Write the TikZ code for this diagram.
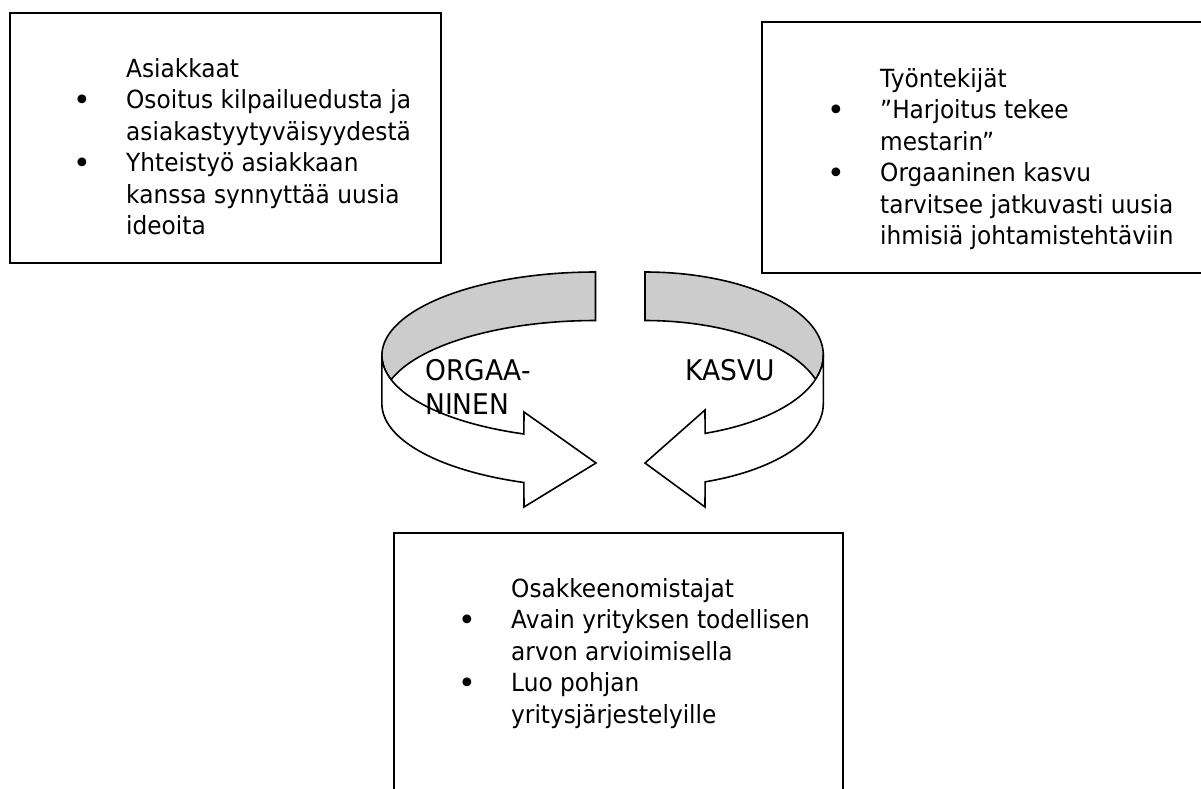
\documentclass[tikz,border=0pt]{standalone}
\usepackage{fontspec}
\setmainfont{DejaVu Sans}[FakeStretch=0.93]
\newfontfamily\bulletfont{DejaVu Sans}
% bullet hanging 44pt to the left of the item text
\newcommand{\itembullet}{\llap{\makebox[88pt][c]{\raisebox{-2pt}{\bulletfont\fontsize{30}{30}\selectfont •}}}}
% block of lines whose reference point is the first baseline
\newcommand{\lines}[1]{\begin{tabular}[t]{@{}l@{}}#1\end{tabular}}
\begin{document}
\begin{tikzpicture}[x=1pt,y=-1pt,
  box/.style={draw=black, line width=2pt, anchor=north west, inner sep=0pt},
  boxtext/.style={anchor=base west, inner sep=0pt,
                  font=\fontsize{25}{31.5}\selectfont},
  ribbon/.style={draw=black, line width=1.6pt, line join=miter},
  backface/.style={ribbon, fill=black!20},
  frontface/.style={ribbon, fill=white},
  cyclelabel/.style={anchor=base west, inner sep=0pt,
                  font=\fontsize{28.5}{34}\selectfont}]
\useasboundingbox (0,0) rectangle (1201,788);
\clip (0,0) rectangle (1201,788);

% ---------- three stakeholder boxes ----------
\node[box, minimum width=431pt, minimum height=250pt] (asiakkaat) at (9,12) {};
\node[box, minimum width=470pt, minimum height=251pt] (tyontekijat) at (761,21) {};
\node[box, minimum width=449pt, minimum height=290pt] (omistajat) at (393,532) {};

\node[boxtext] (asiakkaat-text) at (126,77)
  {\lines{Asiakkaat\\
   \itembullet Osoitus kilpailuedusta ja\\
   asiakastyytyväisyydestä\\
   \itembullet Yhteistyö asiakkaan\\
   kanssa synnyttää uusia\\
   ideoita}};

\node[boxtext] (tyontekijat-text) at (880,87)
  {\lines{Työntekijät\\
   \itembullet ”Harjoitus tekee\\
   mestarin”\\
   \itembullet Orgaaninen kasvu\\
   tarvitsee jatkuvasti uusia\\
   ihmisiä johtamistehtäviin}};

\node[boxtext] (omistajat-text) at (511,597)
  {\lines{Osakkeenomistajat\\
   \itembullet Avain yrityksen todellisen\\
   arvon arvioimisella\\
   \itembullet Luo pohjan\\
   yritysjärjestelyille}};

% ---------- left curved ribbon arrow (ORGAANINEN) ----------
% top edge ellipse: centre (595.5,355.4), radii 213.6 x 83.4; bottom edge 48.5 lower
\def\Lcx{595.5}\def\La{213.6}\def\Lb{83.4}\def\Lya{355.4}\def\Lyb{403.9}
\path[backface]
  plot[domain=270:163.1, samples=60, variable=\t] ({\Lcx+\La*cos(\t)},{\Lya+\Lb*sin(\t)})
  -- plot[domain=196.9:270, samples=60, variable=\t] ({\Lcx+\La*cos(\t)},{\Lyb+\Lb*sin(\t)})
  -- cycle;
\path[frontface]
  plot[domain=180:109.6, samples=60, variable=\t] ({\Lcx+\La*cos(\t)},{\Lya+\Lb*sin(\t)})
  -- (524,412) coordinate (Lbarb1) -- (596,463) coordinate (Ltip) -- (524,507) coordinate (Lbarb2)
  -- plot[domain=109.6:180, samples=60, variable=\t] ({\Lcx+\La*cos(\t)},{\Lyb+\Lb*sin(\t)})
  -- cycle;

% ---------- right curved ribbon arrow (KASVU) ----------
\def\Rcx{645}\def\Ra{178.3}\def\Rb{83.1}\def\Rya{355.1}\def\Ryb{403.6}
\path[backface]
  plot[domain=-90:16.9, samples=60, variable=\t] ({\Rcx+\Ra*cos(\t)},{\Rya+\Rb*sin(\t)})
  -- plot[domain=-16.9:-90, samples=60, variable=\t] ({\Rcx+\Ra*cos(\t)},{\Ryb+\Rb*sin(\t)})
  -- cycle;
\path[frontface]
  plot[domain=0:70.3, samples=60, variable=\t] ({\Rcx+\Ra*cos(\t)},{\Rya+\Rb*sin(\t)})
  -- (705,410) coordinate (Rbarb1) -- (645,463) coordinate (Rtip) -- (705,507) coordinate (Rbarb2)
  -- plot[domain=70.3:0, samples=60, variable=\t] ({\Rcx+\Ra*cos(\t)},{\Ryb+\Rb*sin(\t)})
  -- cycle;

% ---------- cycle labels ----------
\node[cyclelabel] (orgaaninen) at (425,380) {\lines{ORGAA-\\NINEN}};
\node[cyclelabel] (kasvu) at (685,380) {KASVU};
\end{tikzpicture}
\end{document}
